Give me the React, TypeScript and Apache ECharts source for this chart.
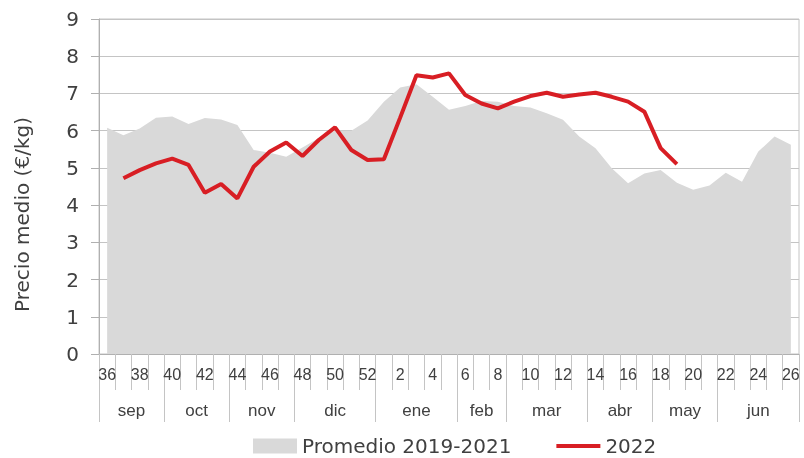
import React, { useEffect, useRef } from "react";
import * as echarts from "echarts";

const weeks: string[] = [
  "36", "37", "38", "39", "40", "41", "42", "43", "44", "45", "46", "47", "48", "49", "50", "51", "52",
  "1", "2", "3", "4", "5", "6", "7", "8", "9", "10", "11", "12", "13", "14", "15", "16", "17", "18", "19", "20", "21", "22", "23", "24", "25", "26",
];

const promedio: number[] = [
  6.08, 5.88, 6.06, 6.35, 6.38, 6.18, 6.34, 6.3, 6.15, 5.48, 5.41, 5.3, 5.55, 5.8, 6.0, 6.0, 6.27,
  6.78, 7.16, 7.25, 6.91, 6.56, 6.66, 6.8, 6.78, 6.66, 6.62, 6.47, 6.29, 5.84, 5.53, 4.99, 4.59, 4.85,
  4.94, 4.6, 4.41, 4.53, 4.87, 4.63, 5.44, 5.84, 5.62,
];

const y2022: (number | null)[] = [
  null, 4.72, 4.94, 5.12, 5.25, 5.08, 4.33, 4.57, 4.18, 5.03, 5.44, 5.68, 5.32, 5.75, 6.09, 5.48, 5.21,
  5.23, 6.35, 7.49, 7.43, 7.54, 6.96, 6.73, 6.6, 6.78, 6.93, 7.02, 6.91, 6.97, 7.02, 6.91, 6.78, 6.51,
  5.53, 5.1, null, null, null, null, null, null, null,
];

const monthNames: string[] = ["sep", "oct", "nov", "dic", "ene", "feb", "mar", "abr", "may", "jun"];
const monthStarts: number[] = [0, 4, 8, 12, 17, 22, 25, 30, 34, 38];

const RED = "#d81e24";
const GRAY = "#d9d9d9";
const TEXT = "#404040";
const GRID = "#c4c4c4";
const NARROW = "'Liberation Sans', Arial, sans-serif";
const MAIN = "'DejaVu Sans', 'Lato', sans-serif";

export default function App() {
  const ref = useRef<HTMLDivElement>(null);
  useEffect(() => {
    if (!ref.current) return;
    const chart = echarts.init(ref.current, null, { renderer: "svg" });
    chart.setOption({
      animation: false,
      grid: { left: 99, right: 5, top: 19, bottom: 104, show: true, borderColor: GRID, borderWidth: 1 },
      xAxis: [
        {
          type: "category",
          data: weeks,
          boundaryGap: true,
          axisLine: { show: true, lineStyle: { color: "#b0b0b0" } },
          axisTick: { show: true, interval: 0, length: 36, lineStyle: { color: GRID } },
          axisLabel: { interval: 1, margin: 12, fontSize: 16, color: TEXT, fontFamily: NARROW },
          splitLine: { show: false },
        },
        {
          type: "category",
          data: weeks,
          boundaryGap: true,
          position: "bottom",
          axisLine: { show: false },
          axisTick: {
            show: true,
            interval: (i: number) => monthStarts.includes(i),
            length: 68,
            lineStyle: { color: GRID },
          },
          axisLabel: { show: false },
          splitLine: { show: false },
        },
      ],
      yAxis: {
        type: "value",
        min: 0,
        max: 9,
        interval: 1,
        name: "Precio medio (€/kg)",
        nameLocation: "middle",
        nameGap: 67,
        nameTextStyle: { fontSize: 20, color: TEXT, fontFamily: MAIN, padding: [0, 56, 0, 0] },
        axisLine: { show: true, lineStyle: { color: "#b0b0b0" } },
        axisTick: { show: true, length: 8, lineStyle: { color: "#b0b0b0" } },
        axisLabel: { fontSize: 20, color: TEXT, margin: 20, fontFamily: MAIN },
        splitLine: { lineStyle: { color: GRID } },
      },
      legend: {
        top: 436,
        left: 253,
        padding: 0,
        itemWidth: 44,
        itemHeight: 15,
        itemGap: 43,
        textStyle: { fontSize: 20, lineHeight: 20, color: TEXT, fontFamily: MAIN },
        data: [
          { name: "Promedio 2019-2021", icon: "rect" },
          { name: "2022", itemStyle: { opacity: 0 }, lineStyle: { width: 4, color: RED } },
        ],
      },
      series: [
        {
          name: "Promedio 2019-2021",
          type: "line",
          data: promedio,
          symbol: "none",
          lineStyle: { width: 0, color: GRAY },
          itemStyle: { color: GRAY },
          areaStyle: { color: GRAY, opacity: 1 },
        },
        {
          name: "2022",
          type: "line",
          data: y2022,
          symbol: "none",
          lineStyle: { width: 4, color: RED },
          itemStyle: { color: RED },
        },
      ],
    });
    const graphics = monthNames.map((m, k) => {
      const s = monthStarts[k];
      const e = (k + 1 < monthStarts.length ? monthStarts[k + 1] : weeks.length) - 1;
      const x0 = chart.convertToPixel({ xAxisIndex: 0 }, s) as number;
      const x1 = chart.convertToPixel({ xAxisIndex: 0 }, e) as number;
      return {
        type: "text",
        x: (x0 + x1) / 2,
        y: 410,
        style: { text: m, fontSize: 17, fill: TEXT, fontFamily: NARROW, align: "center", verticalAlign: "middle" },
      };
    });
    chart.setOption({ graphic: graphics });
    return () => chart.dispose();
  }, []);
  return <div ref={ref} style={{ position: "fixed", left: 0, top: 0, width: 804, height: 458 }} />;
}
